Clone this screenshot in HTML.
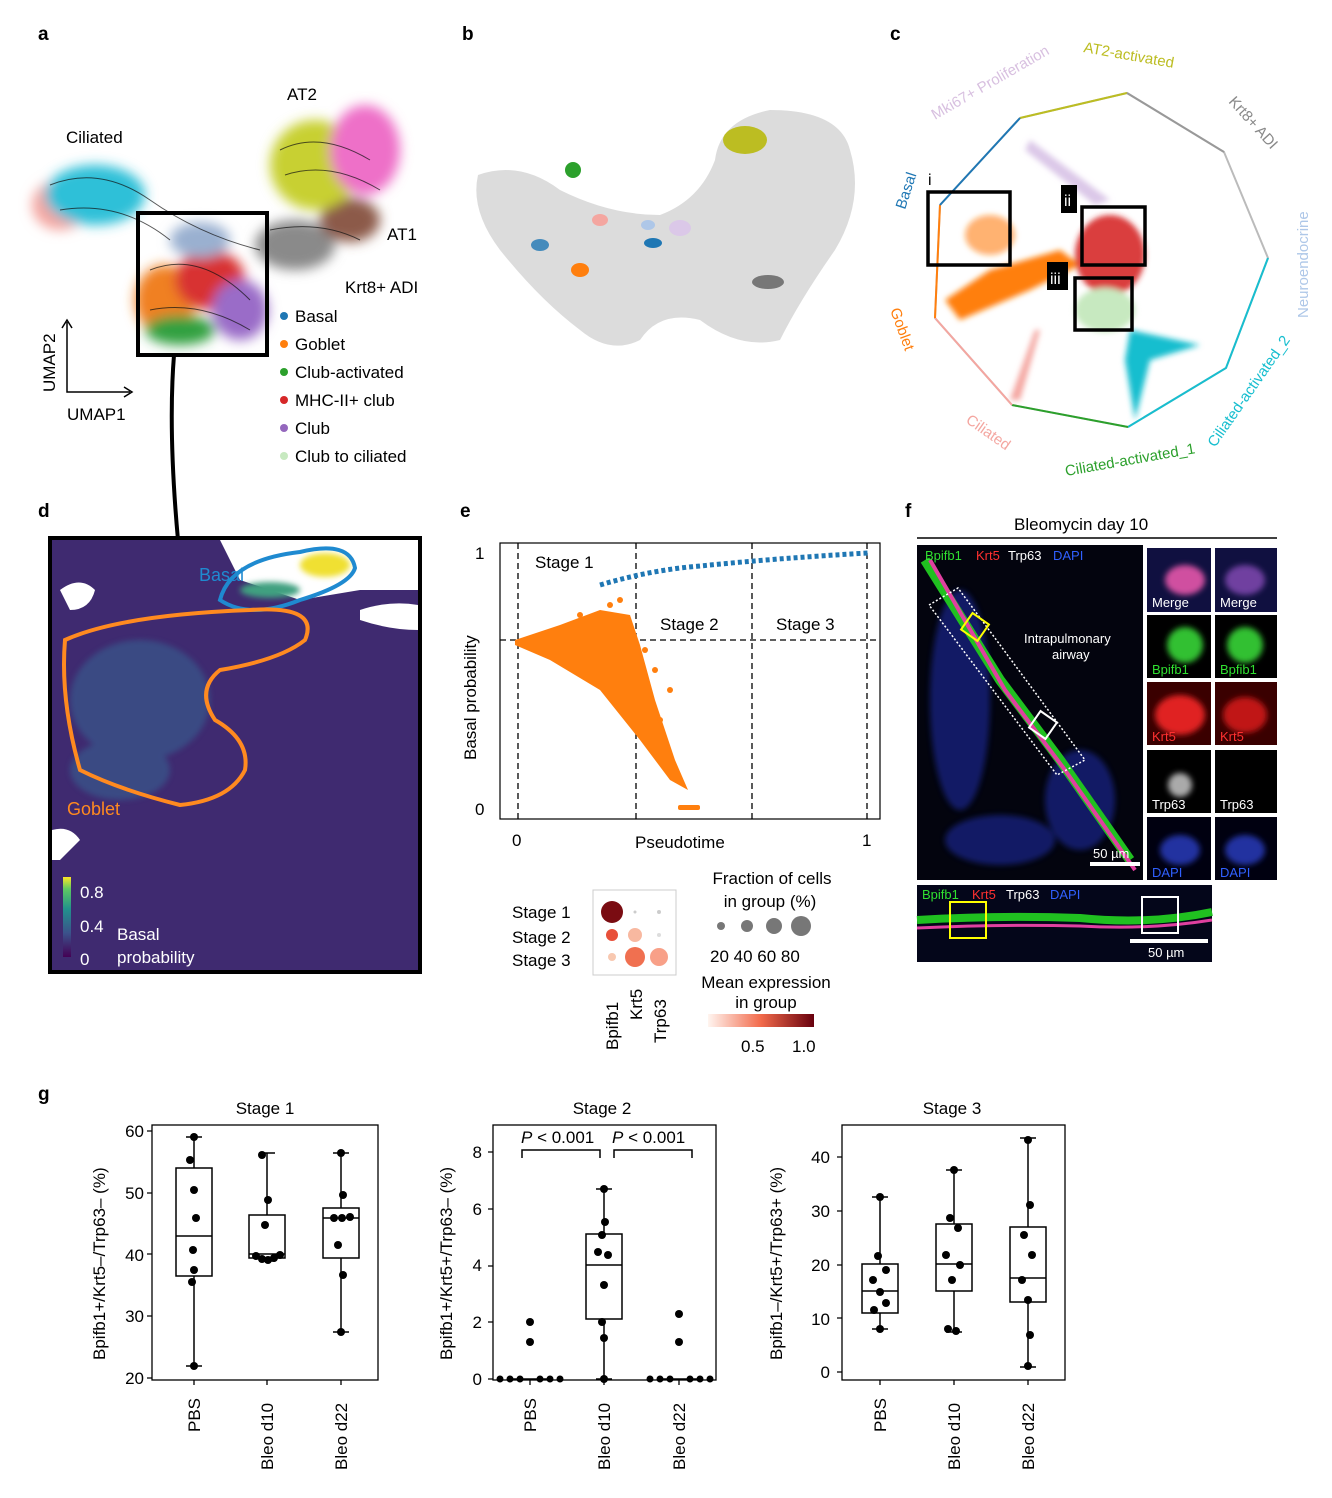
<!DOCTYPE html>
<html><head><meta charset="utf-8"><style>
html,body{margin:0;padding:0;background:#fff}
svg{display:block;font-family:"Liberation Sans",Arial,sans-serif}
</style></head><body>
<svg width="1332" height="1498" viewBox="0 0 1332 1498" xmlns="http://www.w3.org/2000/svg">
<defs>
<filter id="bl" x="-20%" y="-20%" width="140%" height="140%"><feGaussianBlur stdDeviation="6"/></filter>
<filter id="bl2"><feGaussianBlur stdDeviation="3"/></filter>
</defs>
<g font-weight="bold" font-size="19">
<text x="38" y="40">a</text><text x="462" y="40">b</text><text x="890" y="40">c</text>
<text x="38" y="517">d</text><text x="460" y="517">e</text><text x="905" y="517">f</text>
<text x="38" y="1100">g</text></g>

<!-- ===== panel a ===== -->
<g filter="url(#bl)">
<ellipse cx="60" cy="205" rx="28" ry="25" fill="#f4a6a0"/>
<ellipse cx="95" cy="195" rx="50" ry="30" fill="#2fc0d8"/>
<ellipse cx="165" cy="300" rx="30" ry="35" fill="#f08020"/>
<ellipse cx="210" cy="280" rx="35" ry="30" fill="#d83030"/>
<ellipse cx="240" cy="310" rx="28" ry="30" fill="#9a6cc8"/>
<ellipse cx="180" cy="330" rx="35" ry="15" fill="#30a040"/>
<ellipse cx="295" cy="245" rx="40" ry="25" fill="#8a8a8a"/>
<ellipse cx="350" cy="220" rx="30" ry="22" fill="#8c5a4a"/>
<ellipse cx="315" cy="165" rx="45" ry="45" fill="#c8d030"/>
<ellipse cx="365" cy="150" rx="35" ry="45" fill="#ee70c8"/>
<ellipse cx="200" cy="240" rx="30" ry="18" fill="#9ab0d0"/>
</g>
<g stroke="#111" stroke-width="1" fill="none" opacity="0.7">
<path d="M50 185 Q100 165 150 200 T260 250"/><path d="M60 210 Q120 200 170 240"/>
<path d="M280 150 Q320 130 370 160"/><path d="M285 175 Q330 160 380 190"/>
<path d="M150 270 Q200 250 250 300"/><path d="M150 310 Q200 300 250 330"/>
<path d="M270 230 Q320 220 360 240"/></g>
<rect x="138" y="213" width="129" height="142" fill="none" stroke="#000" stroke-width="4"/>
<path d="M174 355 Q168 430 178 540" stroke="#000" stroke-width="4" fill="none"/>
<g font-size="17"><text x="66" y="143">Ciliated</text><text x="287" y="100">AT2</text>
<text x="387" y="240">AT1</text><text x="345" y="293">Krt8+ ADI</text>
<text x="67" y="420">UMAP1</text><text transform="translate(55,392) rotate(-90)">UMAP2</text></g>
<path d="M67 322 V392 H130" stroke="#000" stroke-width="1.5" fill="none"/>
<path d="M62 328 L67 320 L72 328 M124 387 L132 392 L124 397" stroke="#000" stroke-width="1.5" fill="none"/>
<g font-size="17">
<circle cx="284" cy="316" r="4" fill="#1f77b4"/><text x="295" y="322">Basal</text>
<circle cx="284" cy="344" r="4" fill="#ff7f0e"/><text x="295" y="350">Goblet</text>
<circle cx="284" cy="372" r="4" fill="#2ca02c"/><text x="295" y="378">Club-activated</text>
<circle cx="284" cy="400" r="4" fill="#d62728"/><text x="295" y="406">MHC-II+ club</text>
<circle cx="284" cy="428" r="4" fill="#9467bd"/><text x="295" y="434">Club</text>
<circle cx="284" cy="456" r="4" fill="#c7e9c0"/><text x="295" y="462">Club to ciliated</text></g>

<!-- ===== panel b ===== -->
<g fill="#dcdcdc">
<path d="M478 175 Q520 160 560 190 Q610 215 660 215 Q700 200 715 160 Q720 120 770 110 Q840 110 850 150 Q865 200 835 250 Q800 300 780 340 Q740 350 700 320 Q660 310 640 340 Q610 355 580 330 Q540 300 500 250 Q470 210 478 175Z"/></g>
<ellipse cx="745" cy="140" rx="22" ry="14" fill="#bcbd22"/>
<ellipse cx="573" cy="170" rx="8" ry="8" fill="#2ca02c"/>
<ellipse cx="600" cy="220" rx="8" ry="6" fill="#f4a6a0"/>
<ellipse cx="540" cy="245" rx="9" ry="6" fill="#1f77b4" opacity=".8"/>
<ellipse cx="580" cy="270" rx="9" ry="7" fill="#ff7f0e"/>
<ellipse cx="648" cy="225" rx="7" ry="5" fill="#aec7e8"/>
<ellipse cx="653" cy="243" rx="9" ry="5" fill="#1f77b4"/>
<ellipse cx="680" cy="228" rx="11" ry="8" fill="#dbc8e8"/>
<ellipse cx="768" cy="282" rx="16" ry="7" fill="#777"/>

<!-- ===== panel c ===== -->
<g fill="none" stroke-width="2">
<path d="M1020 118 L1127 93 L1224 152 L1268 258 L1226 368 L1128 427 L1012 405 L935 318 L940 205 Z" stroke="#bbb"/>
<path d="M1020 118 L1127 93" stroke="#bcbd22"/><path d="M1127 93 L1224 152" stroke="#999"/>
<path d="M1268 258 L1226 368 L1128 427" stroke="#17becf"/><path d="M1128 427 L1012 405" stroke="#2ca02c"/>
<path d="M1012 405 L935 318" stroke="#f4a6a0"/><path d="M935 318 L940 205" stroke="#ff7f0e"/>
<path d="M940 205 L1020 118" stroke="#1f77b4"/></g>
<g filter="url(#bl2)">
<path d="M945 300 L990 270 L1060 250 L1080 265 L1030 290 L960 320Z" fill="#ff7f0e"/>
<ellipse cx="1110" cy="255" rx="35" ry="40" fill="#d62728" opacity=".9"/>
<ellipse cx="1105" cy="310" rx="30" ry="22" fill="#c7e9c0"/>
<path d="M1130 330 L1200 345 L1150 360 L1135 420 L1125 360Z" fill="#17becf"/>
<path d="M1030 140 L1110 200 L1095 205 L1025 150Z" fill="#dbc8e8"/>
<path d="M1040 330 L1020 400 L1010 400 L1035 330Z" fill="#f4a6a0"/>
<ellipse cx="990" cy="235" rx="25" ry="20" fill="#ff7f0e" opacity=".6"/>
</g>
<g fill="none" stroke="#000" stroke-width="3.5">
<rect x="928" y="192" width="82" height="73"/><rect x="1082" y="207" width="63" height="58"/><rect x="1075" y="278" width="57" height="52"/></g>
<rect x="1061" y="185" width="16" height="28" fill="#000"/><text x="1064" y="206" fill="#fff" font-size="16">ii</text>
<rect x="1047" y="262" width="21" height="28" fill="#000"/><text x="1050" y="284" fill="#fff" font-size="16">iii</text>
<text x="928" y="185" font-size="16">i</text>
<g font-size="15">
<text transform="translate(935,120) rotate(-30)" fill="#d8c0e0">Mki67+ Proliferation</text>
<text transform="translate(1083,52) rotate(10)" fill="#bcbd22">AT2-activated</text>
<text transform="translate(1228,102) rotate(48)" fill="#888">Krt8+ ADI</text>
<text transform="translate(1308,318) rotate(-90)" fill="#aec7e8">Neuroendocrine</text>
<text transform="translate(1215,448) rotate(-55)" fill="#17becf">Ciliated-activated_2</text>
<text transform="translate(1066,476) rotate(-10)" fill="#2ca02c">Ciliated-activated_1</text>
<text transform="translate(965,422) rotate(35)" fill="#f4a6a0">Ciliated</text>
<text transform="translate(890,310) rotate(70)" fill="#ff7f0e">Goblet</text>
<text transform="translate(905,210) rotate(-72)" fill="#1f77b4">Basal</text></g>

<!-- ===== panel d ===== -->
<rect x="50" y="538" width="370" height="434" fill="#fff"/>
<path d="M52 540 H220 L240 580 L300 600 L360 590 L418 590 V970 H52 Z" fill="#3f2a70"/>
<g fill="#fff">
<path d="M60 590 Q80 575 95 590 Q90 610 70 610Z"/>
<path d="M360 610 Q390 600 418 605 L418 630 Q390 630 360 620Z"/>
<path d="M52 830 Q70 825 80 840 L60 860 L52 860Z"/></g>
<g fill="#38588c" opacity=".7" filter="url(#bl2)"><ellipse cx="140" cy="700" rx="70" ry="60"/><ellipse cx="120" cy="770" rx="50" ry="30"/></g>
<g filter="url(#bl2)"><ellipse cx="325" cy="565" rx="25" ry="12" fill="#f0e030"/><ellipse cx="270" cy="590" rx="30" ry="8" fill="#40a080"/></g>
<path d="M220 600 Q230 560 300 552 Q350 540 355 568 Q350 585 300 600 Q250 620 220 600Z" fill="none" stroke="#1f8ad0" stroke-width="4"/>
<path d="M65 640 Q120 615 250 610 Q320 605 305 640 Q280 660 220 670 Q195 690 215 720 Q250 740 245 770 Q230 800 180 805 Q120 790 80 770 Q60 700 65 640Z" fill="none" stroke="#ff8a20" stroke-width="4"/>
<rect x="50" y="538" width="370" height="434" fill="none" stroke="#000" stroke-width="4"/>
<text x="199" y="581" fill="#1f8ad0" font-size="18">Basal</text>
<text x="67" y="815" fill="#ff8a20" font-size="18">Goblet</text>
<defs><linearGradient id="vir" x1="0" y1="1" x2="0" y2="0"><stop offset="0" stop-color="#440154"/><stop offset=".3" stop-color="#3b528b"/><stop offset=".6" stop-color="#21918c"/><stop offset=".85" stop-color="#5ec962"/><stop offset="1" stop-color="#fde725"/></linearGradient></defs>
<rect x="63" y="877" width="8" height="80" fill="url(#vir)"/>
<g font-size="17" fill="#fff"><text x="80" y="898">0.8</text><text x="80" y="932">0.4</text><text x="80" y="965">0</text>
<text x="117" y="940">Basal</text><text x="117" y="963">probability</text></g>

<!-- ===== panel e ===== -->
<rect x="500" y="543" width="380" height="276" fill="none" stroke="#000" stroke-width="1.2"/>
<g stroke="#000" stroke-width="1.3" stroke-dasharray="6,4">
<line x1="518" y1="543" x2="518" y2="819"/><line x1="636" y1="543" x2="636" y2="819"/>
<line x1="752" y1="543" x2="752" y2="819"/><line x1="867" y1="543" x2="867" y2="819"/>
<line x1="500" y1="640" x2="880" y2="640"/></g>
<path d="M515 640 L560 625 L600 610 L630 615 L640 645 L655 700 L675 760 L688 790 L670 780 L640 740 L600 690 L550 660 L515 645Z" fill="#ff7f0e"/>
<g fill="#ff7f0e"><circle cx="655" cy="670" r="3"/><circle cx="670" cy="690" r="3"/><circle cx="620" cy="600" r="3"/><circle cx="580" cy="615" r="3"/><circle cx="610" cy="605" r="3"/><circle cx="645" cy="650" r="3"/><circle cx="660" cy="720" r="3"/></g>
<rect x="678" y="805" width="22" height="5" rx="2" fill="#ff7f0e"/>
<path d="M600 585 Q650 570 700 566 Q780 558 868 553" stroke="#1f77b4" stroke-width="5" fill="none" stroke-dasharray="4,3"/>
<g font-size="17"><text x="535" y="568">Stage 1</text><text x="660" y="630">Stage 2</text><text x="776" y="630">Stage 3</text>
<text x="475" y="559">1</text><text x="475" y="815">0</text><text x="512" y="846">0</text><text x="862" y="846">1</text>
<text x="635" y="848">Pseudotime</text><text transform="translate(476,760) rotate(-90)">Basal probability</text></g>
<rect x="593" y="890" width="83" height="85" fill="none" stroke="#ccc" stroke-width="1"/>
<g font-size="17"><text x="512" y="918">Stage 1</text><text x="512" y="943">Stage 2</text><text x="512" y="966">Stage 3</text>
<text transform="translate(618,1050) rotate(-90)">Bpifb1</text><text transform="translate(642,1020) rotate(-90)">Krt5</text><text transform="translate(666,1043) rotate(-90)">Trp63</text></g>
<circle cx="612" cy="912" r="11" fill="#7a0c12"/><circle cx="612" cy="935" r="6" fill="#e8503a"/><circle cx="612" cy="957" r="4" fill="#f8c8b0"/>
<circle cx="635" cy="912" r="1.5" fill="#ccc"/><circle cx="635" cy="935" r="7" fill="#f8b8a0"/><circle cx="635" cy="957" r="10" fill="#f07050"/>
<circle cx="659" cy="912" r="2" fill="#ccc"/><circle cx="659" cy="935" r="2" fill="#ddd"/><circle cx="659" cy="957" r="9" fill="#f8a088"/>
<g font-size="17" text-anchor="middle"><text x="772" y="884">Fraction of cells</text><text x="770" y="907">in group (%)</text>
<text x="766" y="988">Mean expression</text><text x="766" y="1008">in group</text></g>
<circle cx="721" cy="926" r="4" fill="#777"/><circle cx="747" cy="926" r="6" fill="#777"/><circle cx="774" cy="926" r="8" fill="#777"/><circle cx="801" cy="926" r="10" fill="#777"/>
<text x="710" y="962" font-size="17">20 40 60 80</text>
<defs><linearGradient id="red"><stop offset="0" stop-color="#fff5f0"/><stop offset=".5" stop-color="#f26a4b"/><stop offset="1" stop-color="#67000d"/></linearGradient></defs>
<rect x="708" y="1014" width="106" height="13" fill="url(#red)"/>
<text x="741" y="1052" font-size="17">0.5</text><text x="792" y="1052" font-size="17">1.0</text>

<!-- ===== panel f ===== -->
<text x="1014" y="530" font-size="17">Bleomycin day 10</text>
<line x1="917" y1="538" x2="1277" y2="538" stroke="#000" stroke-width="1.5"/>
<rect x="917" y="545" width="226" height="335" fill="#03040e"/>
<g fill="#1a2aa0" opacity=".6" filter="url(#bl2)"><ellipse cx="960" cy="700" rx="30" ry="110"/><ellipse cx="1080" cy="800" rx="35" ry="50"/><ellipse cx="1000" cy="840" rx="55" ry="25"/></g>
<path d="M925 560 L1000 680 L1060 760 L1130 860" stroke="#20c020" stroke-width="10" fill="none"/>
<path d="M930 560 L1005 690 L1065 770 L1135 870" stroke="#e040a0" stroke-width="4" fill="none"/>
<path d="M929 605 L958 588 L1085 760 L1057 775 Z" fill="none" stroke="#fff" stroke-dasharray="2,2" stroke-width="1.5"/>
<rect x="965" y="617" width="20" height="20" fill="none" stroke="#ff0" stroke-width="2" transform="rotate(35 975 627)"/>
<rect x="1033" y="715" width="20" height="20" fill="none" stroke="#fff" stroke-width="2" transform="rotate(35 1043 725)"/>
<g font-size="13" fill="#fff"><text x="1024" y="643">Intrapulmonary</text><text x="1052" y="659">airway</text>
<text x="1093" y="858">50 µm</text></g>
<rect x="1090" y="862" width="50" height="4" fill="#fff"/>
<g font-size="13"><text x="925" y="560" fill="#30e030">Bpifb1</text><text x="976" y="560" fill="#ff3030">Krt5</text><text x="1008" y="560" fill="#fff">Trp63</text><text x="1053" y="560" fill="#3060ff">DAPI</text></g>
<g>
<rect x="1147" y="548" width="64" height="64" fill="#101040"/><rect x="1215" y="548" width="62" height="64" fill="#101040"/>
<rect x="1147" y="615" width="64" height="63" fill="#000"/><rect x="1215" y="615" width="62" height="63" fill="#000"/>
<rect x="1147" y="682" width="64" height="63" fill="#3a0000"/><rect x="1215" y="682" width="62" height="63" fill="#3a0000"/>
<rect x="1147" y="750" width="64" height="63" fill="#000"/><rect x="1215" y="750" width="62" height="63" fill="#000"/>
<rect x="1147" y="817" width="64" height="63" fill="#000010"/><rect x="1215" y="817" width="62" height="63" fill="#000010"/></g>
<g filter="url(#bl2)">
<ellipse cx="1185" cy="580" rx="20" ry="15" fill="#d050a0"/><ellipse cx="1245" cy="580" rx="20" ry="15" fill="#7040a0"/>
<ellipse cx="1185" cy="645" rx="18" ry="18" fill="#30c030"/><ellipse cx="1245" cy="645" rx="18" ry="18" fill="#30c030"/>
<ellipse cx="1180" cy="715" rx="25" ry="20" fill="#e02020"/><ellipse cx="1245" cy="715" rx="22" ry="18" fill="#c01818"/>
<ellipse cx="1180" cy="785" rx="12" ry="12" fill="#aaa"/>
<ellipse cx="1180" cy="850" rx="20" ry="15" fill="#2030a0"/><ellipse cx="1245" cy="850" rx="20" ry="15" fill="#2030a0"/></g>
<g font-size="13" fill="#fff"><text x="1152" y="607">Merge</text><text x="1220" y="607">Merge</text>
<text x="1152" y="674" fill="#30e030">Bpifb1</text><text x="1220" y="674" fill="#30e030">Bpfib1</text>
<text x="1152" y="741" fill="#ff3030">Krt5</text><text x="1220" y="741" fill="#ff3030">Krt5</text>
<text x="1152" y="809">Trp63</text><text x="1220" y="809">Trp63</text>
<text x="1152" y="877" fill="#3060ff">DAPI</text><text x="1220" y="877" fill="#3060ff">DAPI</text></g>
<rect x="917" y="885" width="295" height="77" fill="#04061a"/>
<path d="M917 920 Q1000 915 1080 918 Q1150 925 1212 912" stroke="#20c020" stroke-width="8" fill="none"/>
<path d="M917 928 Q1000 924 1080 926 Q1150 930 1212 920" stroke="#e040a0" stroke-width="3" fill="none"/>
<rect x="950" y="902" width="36" height="36" fill="none" stroke="#ff0" stroke-width="2"/>
<rect x="1142" y="897" width="36" height="36" fill="none" stroke="#fff" stroke-width="2"/>
<rect x="1130" y="939" width="78" height="4" fill="#fff"/><text x="1148" y="957" font-size="13" fill="#fff">50 µm</text>
<g font-size="13"><text x="922" y="899" fill="#30e030">Bpifb1</text><text x="972" y="899" fill="#ff3030">Krt5</text><text x="1006" y="899" fill="#fff">Trp63</text><text x="1050" y="899" fill="#3060ff">DAPI</text></g>

<!-- ===== panel g ===== -->
<g font-size="17" text-anchor="middle"><text x="265" y="1114">Stage 1</text><text x="602" y="1114">Stage 2</text><text x="952" y="1114">Stage 3</text></g>
<g fill="none" stroke="#000" stroke-width="1.3">
<rect x="152" y="1125" width="226" height="255"/><rect x="493" y="1125" width="223" height="255"/><rect x="842" y="1125" width="223" height="255"/></g>
<g font-size="17">
<text transform="translate(105,1360) rotate(-90)">Bpifb1+/Krt5–/Trp63– (%)</text>
<text transform="translate(452,1360) rotate(-90)">Bpifb1+/Krt5+/Trp63– (%)</text>
<text transform="translate(782,1360) rotate(-90)">Bpifb1–/Krt5+/Trp63+ (%)</text></g>
<g font-size="17" text-anchor="end">
<text x="144" y="1137">60</text><text x="144" y="1199">50</text><text x="144" y="1261">40</text><text x="144" y="1322">30</text><text x="144" y="1384">20</text>
<text x="482" y="1158">8</text><text x="482" y="1215">6</text><text x="482" y="1271">4</text><text x="482" y="1328">2</text><text x="482" y="1385">0</text>
<text x="830" y="1163">40</text><text x="830" y="1217">30</text><text x="830" y="1271">20</text><text x="830" y="1325">10</text><text x="830" y="1378">0</text></g>
<g stroke="#000" stroke-width="1.3">
<path d="M147 1131h5M147 1193h5M147 1254h5M147 1316h5M147 1378h5"/>
<path d="M488 1152h5M488 1209h5M488 1266h5M488 1322h5M488 1379h5"/>
<path d="M837 1157h5M837 1211h5M837 1265h5M837 1318h5M837 1372h5"/>
<path d="M194 1380v5M267 1380v5M341 1380v5M530 1380v5M604 1380v5M679 1380v5M880 1380v5M954 1380v5M1028 1380v5"/></g>
<g font-size="17">
<text transform="translate(200,1432) rotate(-90)">PBS</text><text transform="translate(273,1470) rotate(-90)">Bleo d10</text><text transform="translate(347,1470) rotate(-90)">Bleo d22</text>
<text transform="translate(536,1432) rotate(-90)">PBS</text><text transform="translate(610,1470) rotate(-90)">Bleo d10</text><text transform="translate(685,1470) rotate(-90)">Bleo d22</text>
<text transform="translate(886,1432) rotate(-90)">PBS</text><text transform="translate(960,1470) rotate(-90)">Bleo d10</text><text transform="translate(1034,1470) rotate(-90)">Bleo d22</text></g>
<g fill="none" stroke="#000" stroke-width="1.5">
<path d="M194 1137V1168M194 1276V1366M186 1137h16M186 1366h16"/><rect x="176" y="1168" width="36" height="108"/><path d="M176 1236h36"/>
<path d="M267 1153V1215M267 1258V1261M259 1153h16M259 1261h16"/><rect x="249" y="1215" width="36" height="43"/><path d="M249 1254h36"/>
<path d="M341 1153V1208M341 1258V1332M333 1153h16M333 1332h16"/><rect x="323" y="1208" width="36" height="50"/><path d="M323 1218h36"/>
<path d="M512 1379h36"/>
<path d="M604 1189V1234M604 1319V1379M596 1189h16M596 1379h16"/><rect x="586" y="1234" width="36" height="85"/><path d="M586 1265h36"/>
<path d="M661 1379h36"/>
<path d="M880 1197V1264M880 1313V1329M872 1197h16M872 1329h16"/><rect x="862" y="1264" width="36" height="49"/><path d="M862 1291h36"/>
<path d="M954 1170V1224M954 1291V1332M946 1170h16M946 1332h16"/><rect x="936" y="1224" width="36" height="67"/><path d="M936 1264h36"/>
<path d="M1028 1138V1227M1028 1302V1367M1020 1138h16M1020 1367h16"/><rect x="1010" y="1227" width="36" height="75"/><path d="M1010 1278h36"/>
<path d="M522 1158v-8h78v8M614 1158v-8h78v8"/></g>
<g font-size="17"><text x="521" y="1143"><tspan font-style="italic">P</tspan> &lt; 0.001</text><text x="612" y="1143"><tspan font-style="italic">P</tspan> &lt; 0.001</text></g>
<g fill="#000">
<circle cx="194" cy="1137" r="4"/><circle cx="190" cy="1160" r="4"/><circle cx="194" cy="1190" r="4"/><circle cx="196" cy="1218" r="4"/><circle cx="193" cy="1250" r="4"/><circle cx="194" cy="1270" r="4"/><circle cx="192" cy="1282" r="4"/><circle cx="194" cy="1366" r="4"/>
<circle cx="262" cy="1155" r="4"/><circle cx="268" cy="1200" r="4"/><circle cx="265" cy="1225" r="4"/><circle cx="256" cy="1256" r="4"/><circle cx="262" cy="1259" r="4"/><circle cx="268" cy="1260" r="4"/><circle cx="274" cy="1258" r="4"/><circle cx="280" cy="1255" r="4"/>
<circle cx="341" cy="1153" r="4"/><circle cx="343" cy="1195" r="4"/><circle cx="334" cy="1218" r="4"/><circle cx="342" cy="1218" r="4"/><circle cx="350" cy="1217" r="4"/><circle cx="338" cy="1245" r="4"/><circle cx="343" cy="1275" r="4"/><circle cx="341" cy="1332" r="4"/>
<circle cx="530" cy="1322" r="4"/><circle cx="530" cy="1342" r="4"/>
<circle cx="500" cy="1379" r="3.5"/><circle cx="510" cy="1379" r="3.5"/><circle cx="520" cy="1379" r="3.5"/><circle cx="540" cy="1379" r="3.5"/><circle cx="550" cy="1379" r="3.5"/><circle cx="560" cy="1379" r="3.5"/>
<circle cx="604" cy="1189" r="4"/><circle cx="605" cy="1222" r="4"/><circle cx="602" cy="1235" r="4"/><circle cx="598" cy="1252" r="4"/><circle cx="608" cy="1255" r="4"/><circle cx="604" cy="1285" r="4"/><circle cx="602" cy="1322" r="4"/><circle cx="604" cy="1338" r="4"/><circle cx="604" cy="1379" r="4"/>
<circle cx="679" cy="1314" r="4"/><circle cx="679" cy="1342" r="4"/>
<circle cx="650" cy="1379" r="3.5"/><circle cx="660" cy="1379" r="3.5"/><circle cx="670" cy="1379" r="3.5"/><circle cx="690" cy="1379" r="3.5"/><circle cx="700" cy="1379" r="3.5"/><circle cx="710" cy="1379" r="3.5"/>
<circle cx="880" cy="1197" r="4"/><circle cx="878" cy="1256" r="4"/><circle cx="886" cy="1270" r="4"/><circle cx="873" cy="1280" r="4"/><circle cx="880" cy="1292" r="4"/><circle cx="886" cy="1303" r="4"/><circle cx="874" cy="1310" r="4"/><circle cx="880" cy="1329" r="4"/>
<circle cx="954" cy="1170" r="4"/><circle cx="950" cy="1218" r="4"/><circle cx="958" cy="1228" r="4"/><circle cx="946" cy="1255" r="4"/><circle cx="960" cy="1265" r="4"/><circle cx="952" cy="1280" r="4"/><circle cx="948" cy="1329" r="4"/><circle cx="956" cy="1331" r="4"/>
<circle cx="1028" cy="1140" r="4"/><circle cx="1030" cy="1205" r="4"/><circle cx="1024" cy="1235" r="4"/><circle cx="1032" cy="1255" r="4"/><circle cx="1022" cy="1280" r="4"/><circle cx="1028" cy="1300" r="4"/><circle cx="1030" cy="1335" r="4"/><circle cx="1028" cy="1366" r="4"/>
</g>
</svg>
</body></html>
